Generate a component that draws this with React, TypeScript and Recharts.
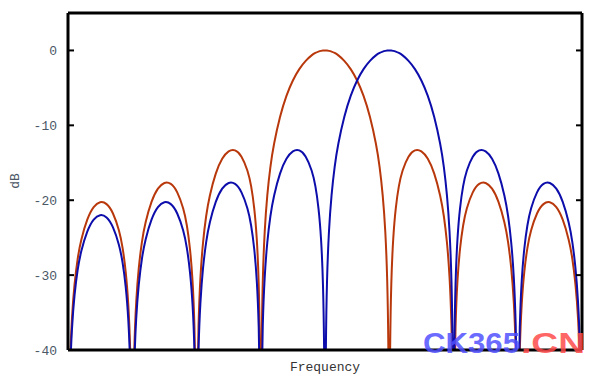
import { LineChart, Line, XAxis, YAxis } from 'recharts';

// frequency axis, in null spacings (red main lobe peaks at 4, blue at 5)
const freq = [
  0, 0.01, 0.03, 0.06, 0.1, 0.15, 0.2, 0.3, 0.4, 0.5, 0.6, 0.7, 0.8, 0.85, 0.9, 0.94, 0.97, 0.99,
  1, 1.01, 1.03, 1.06, 1.1, 1.15, 1.2, 1.3, 1.4, 1.5, 1.6, 1.7, 1.8, 1.85, 1.9, 1.94, 1.97, 1.99,
  2, 2.01, 2.03, 2.06, 2.1, 2.15, 2.2, 2.3, 2.4, 2.5, 2.6, 2.7, 2.8, 2.85, 2.9, 2.94, 2.97, 2.99,
  3, 3.01, 3.03, 3.06, 3.1, 3.15, 3.2, 3.3, 3.4, 3.5, 3.6, 3.7, 3.8, 3.85, 3.9, 3.94, 3.97, 3.99,
  4, 4.01, 4.03, 4.06, 4.1, 4.15, 4.2, 4.3, 4.4, 4.5, 4.6, 4.7, 4.8, 4.85, 4.9, 4.94, 4.97, 4.99,
  5, 5.01, 5.03, 5.06, 5.1, 5.15, 5.2, 5.3, 5.4, 5.5, 5.6, 5.7, 5.8, 5.85, 5.9, 5.94, 5.97, 5.99,
  6, 6.01, 6.03, 6.06, 6.1, 6.15, 6.2, 6.3, 6.4, 6.5, 6.6, 6.7, 6.8, 6.85, 6.9, 6.94, 6.97, 6.99,
  7, 7.01, 7.03, 7.06, 7.1, 7.15, 7.2, 7.3, 7.4, 7.5, 7.6, 7.7, 7.8, 7.85, 7.9, 7.94, 7.97, 7.99,
  8,
];

// red response in dB (nulls sit far below the -40 floor and get clipped)
const redDb = [
  -60, -51.12, -41.56, -35.52, -31.11, -27.67, -25.34, -22.37, -20.77, -20.13, -20.36, -21.54, -24.09, -26.21, -29.43, -33.67, -39.58, -49.06,
  -60, -49.01, -39.43, -33.36, -28.92, -25.44, -23.06, -20.0, -18.3, -17.55, -17.66, -18.72, -21.14, -23.19, -26.34, -30.52, -36.39, -45.84,
  -60, -45.76, -36.14, -30.03, -25.52, -21.96, -19.49, -16.23, -14.32, -13.34, -13.2, -13.97, -16.07, -17.94, -20.9, -24.93, -30.67, -40.03,
  -60, -39.9, -30.21, -23.95, -19.23, -15.39, -12.62, -8.69, -5.94, -3.92, -2.42, -1.33, -0.58, -0.32, -0.14, -0.05, 0.0, 0.0,
  0, 0.0, 0.0, -0.05, -0.14, -0.32, -0.58, -1.33, -2.42, -3.92, -5.94, -8.69, -12.62, -15.39, -19.23, -23.95, -30.21, -39.9,
  -60, -40.03, -30.67, -24.93, -20.9, -17.94, -16.07, -13.97, -13.2, -13.34, -14.32, -16.23, -19.49, -21.96, -25.52, -30.03, -36.14, -45.76,
  -60, -45.84, -36.39, -30.52, -26.34, -23.19, -21.14, -18.72, -17.66, -17.55, -18.3, -20.0, -23.06, -25.44, -28.92, -33.36, -39.43, -49.01,
  -60, -49.06, -39.58, -33.67, -29.43, -26.21, -24.09, -21.54, -20.36, -20.13, -20.77, -22.37, -25.34, -27.67, -31.11, -35.52, -41.56, -51.12,
  -60,
];

// blue response in dB
const blueDb = [
  -60, -52.53, -42.98, -36.95, -32.56, -29.16, -26.86, -23.96, -22.42, -21.85, -22.14, -23.4, -26.02, -28.18, -31.44, -35.71, -41.65, -51.18,
  -60, -51.12, -41.56, -35.52, -31.11, -27.67, -25.34, -22.37, -20.77, -20.13, -20.36, -21.54, -24.09, -26.21, -29.43, -33.67, -39.58, -49.06,
  -60, -49.01, -39.43, -33.36, -28.92, -25.44, -23.06, -20.0, -18.3, -17.55, -17.66, -18.72, -21.14, -23.19, -26.34, -30.52, -36.39, -45.84,
  -60, -45.76, -36.14, -30.03, -25.52, -21.96, -19.49, -16.23, -14.32, -13.34, -13.2, -13.97, -16.07, -17.94, -20.9, -24.93, -30.67, -40.03,
  -60, -39.9, -30.21, -23.95, -19.23, -15.39, -12.62, -8.69, -5.94, -3.92, -2.42, -1.33, -0.58, -0.32, -0.14, -0.05, 0.0, 0.0,
  0, 0.0, 0.0, -0.05, -0.14, -0.32, -0.58, -1.33, -2.42, -3.92, -5.94, -8.69, -12.62, -15.39, -19.23, -23.95, -30.21, -39.9,
  -60, -40.03, -30.67, -24.93, -20.9, -17.94, -16.07, -13.97, -13.2, -13.34, -14.32, -16.23, -19.49, -21.96, -25.52, -30.03, -36.14, -45.76,
  -60, -45.84, -36.39, -30.52, -26.34, -23.19, -21.14, -18.72, -17.66, -17.55, -18.3, -20.0, -23.06, -25.44, -28.92, -33.36, -39.43, -49.01,
  -60,
];

const dbTicks = [0, -10, -20, -30, -40];

const MONO = '"Liberation Mono", "DejaVu Sans Mono", monospace';
const LABEL_COLOR = '#4b5866';

const data = freq.map((f, i) => ({ f, red: redDb[i], blue: blueDb[i] }));

export default function App() {
  return (
    <div style={{ position: 'absolute', left: 0, top: 0, width: 600, height: 381, background: '#fff' }}>
      <LineChart
        width={600}
        height={381}
        data={data}
        margin={{ top: 12, right: 17, bottom: 0, left: 8 }}
      >
        <XAxis
          dataKey="f"
          type="number"
          domain={[0, 8]}
          tick={false}
          tickLine={false}
          height={31}
          axisLine={{ stroke: '#000', strokeWidth: 3 }}
          label={() => (
            <text x={325} y={371} textAnchor="middle" fontFamily={MONO} fontSize={13} fill="#333">
              Frequency
            </text>
          )}
        />
        <XAxis
          xAxisId="top"
          orientation="top"
          type="number"
          domain={[0, 8]}
          tick={false}
          tickLine={false}
          height={1}
          axisLine={{ stroke: '#000', strokeWidth: 3 }}
        />
        <YAxis
          type="number"
          domain={[-40, 5]}
          ticks={dbTicks}
          allowDataOverflow
          width={60}
          tickSize={-6}
          tickMargin={17}
          axisLine={{ stroke: '#000', strokeWidth: 3 }}
          tickLine={{ stroke: '#000', strokeWidth: 2 }}
          tick={{ fill: LABEL_COLOR, fontFamily: MONO, fontSize: 13 }}
          label={() => (
            <text
              x={19}
              y={181}
              textAnchor="middle"
              fontFamily={MONO}
              fontSize={13}
              fill={LABEL_COLOR}
              transform="rotate(-90, 19, 181)"
            >
              dB
            </text>
          )}
        />
        <YAxis
          yAxisId="right"
          orientation="right"
          type="number"
          domain={[-40, 5]}
          ticks={dbTicks}
          allowDataOverflow
          width={1}
          tickSize={-6}
          tickFormatter={() => ''}
          axisLine={{ stroke: '#000', strokeWidth: 3 }}
          tickLine={{ stroke: '#000', strokeWidth: 2 }}
        />
        <Line
          type="basis"
          dataKey="red"
          stroke="#b8380c"
          strokeWidth={2}
          dot={false}
          isAnimationActive={false}
        />
        <Line
          type="basis"
          dataKey="blue"
          stroke="#0d0dab"
          strokeWidth={2}
          dot={false}
          isAnimationActive={false}
        />
      </LineChart>
      {/* watermark */}
      <svg width={600} height={381} style={{ position: 'absolute', left: 0, top: 0, pointerEvents: 'none' }}>
        <text
          x={423}
          y={353}
          textLength={97}
          lengthAdjust="spacingAndGlyphs"
          fontFamily='"Liberation Sans", Arial, sans-serif'
          fontWeight="bold"
          fontSize={29}
          fill="#5050ff"
          fillOpacity={0.85}
        >
          CK365
        </text>
        <text
          x={521}
          y={353}
          textLength={64}
          lengthAdjust="spacingAndGlyphs"
          fontFamily='"Liberation Sans", Arial, sans-serif'
          fontWeight="bold"
          fontSize={29}
          fill="#ff4a4a"
          fillOpacity={0.85}
        >
          .CN
        </text>
      </svg>
    </div>
  );
}
